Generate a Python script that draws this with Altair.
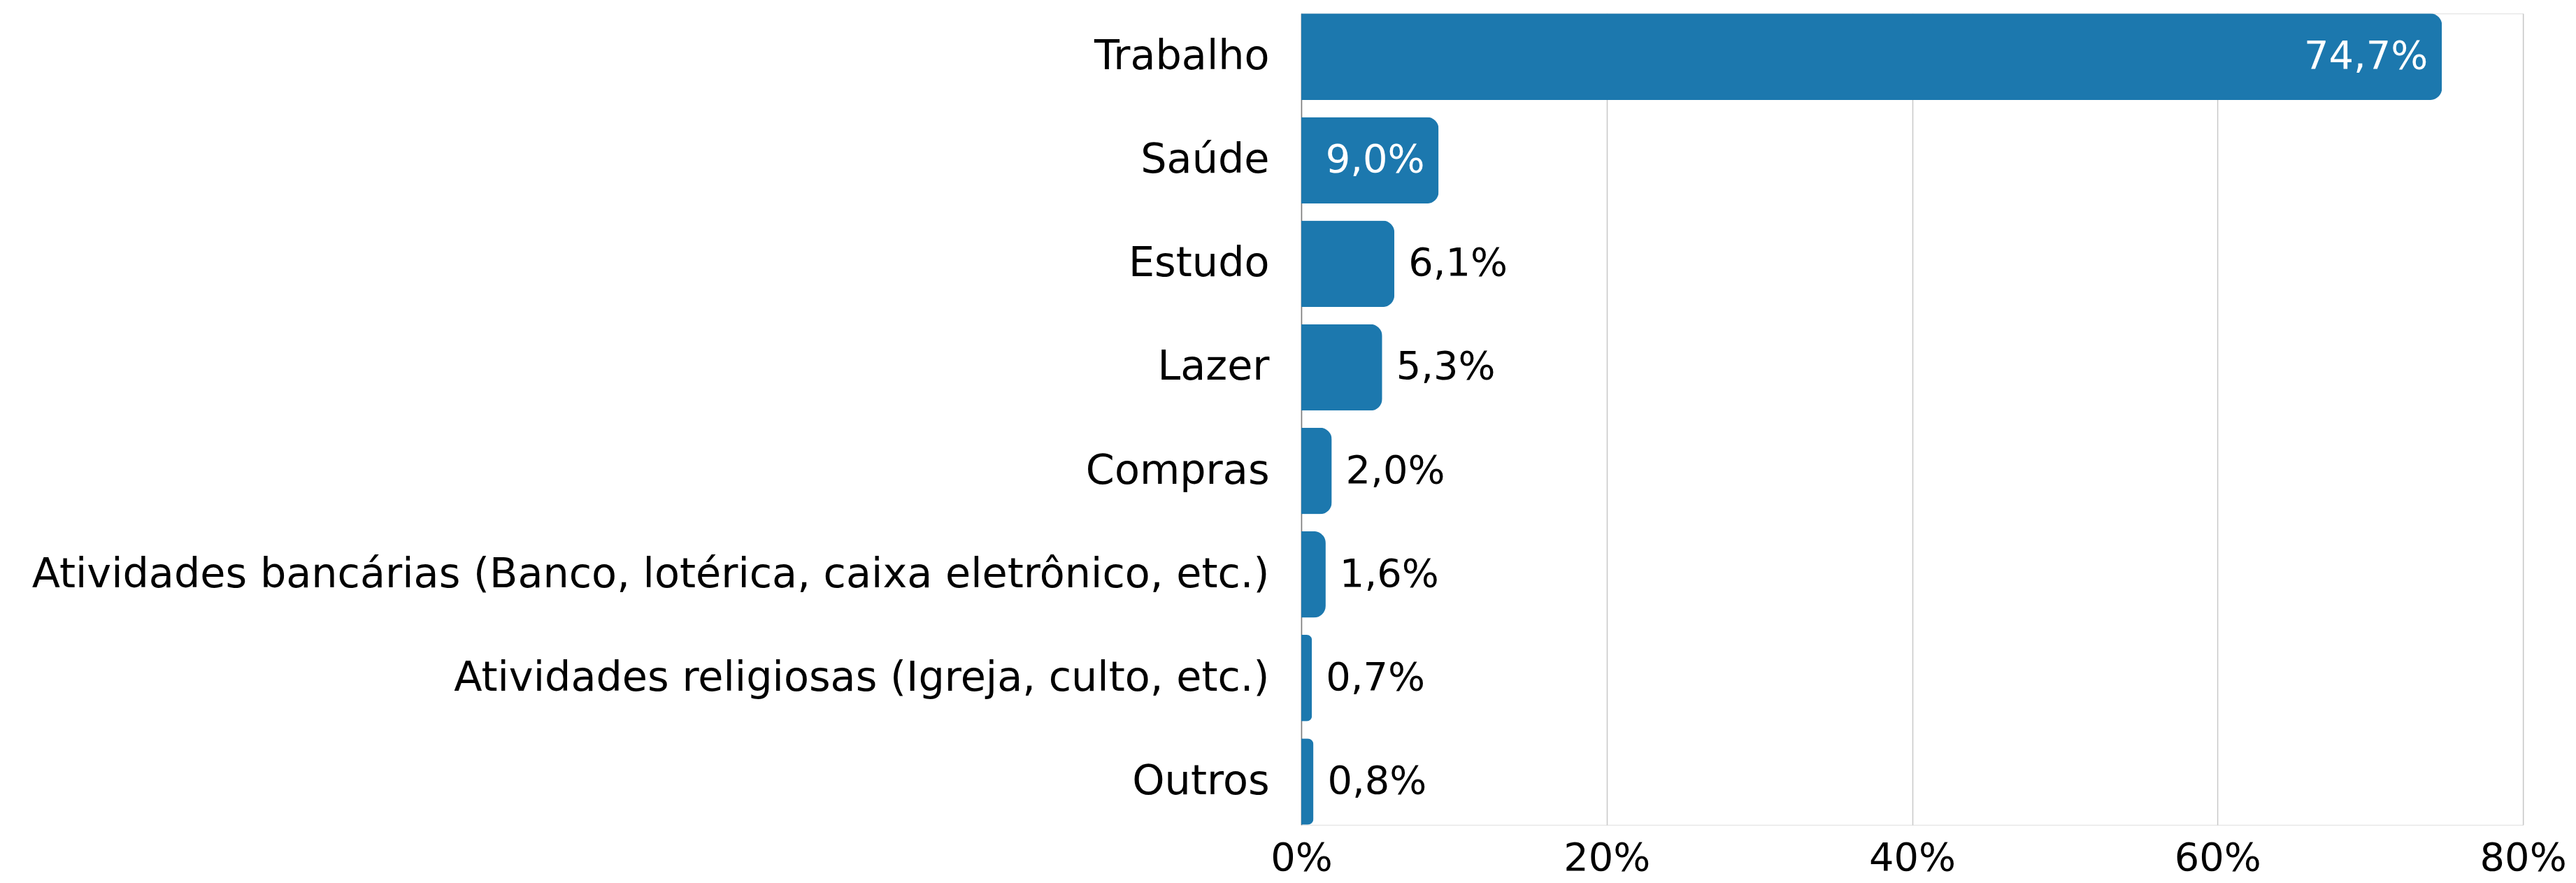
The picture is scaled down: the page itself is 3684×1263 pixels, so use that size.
import altair as alt
import pandas as pd

categories = [
    "Trabalho",
    "Saúde",
    "Estudo",
    "Lazer",
    "Compras",
    "Atividades bancárias (Banco, lotérica, caixa eletrônico, etc.)",
    "Atividades religiosas (Igreja, culto, etc.)",
    "Outros",
]
values = [74.7, 9.0, 6.1, 5.3, 2.0, 1.6, 0.7, 0.8]
x_ticks = [0, 20, 40, 60, 80]

df = pd.DataFrame({"cat": categories, "v": values})

FONT = "DejaVu Sans"
COLOR = "#1c78ae"
FS = 56

y_enc = alt.Y("cat:N", sort=categories, title=None,
              scale=alt.Scale(paddingInner=0.165, paddingOuter=0),
              axis=alt.Axis(labelFontSize=59, labelFont=FONT, labelColor="#000",
                            labelPadding=46, ticks=False, domain=True,
                            domainColor="#7a7a7a", domainWidth=1.5,
                            labelLimit=3000, grid=False))
x_enc = alt.X("v:Q", title=None,
              scale=alt.Scale(domain=[0, 80], nice=False),
              axis=alt.Axis(values=x_ticks, labelExpr="datum.value + '%'",
                            labelFontSize=FS, labelFont=FONT, labelColor="#000",
                            labelPadding=21, labelFlush=False, ticks=False,
                            domain=False, grid=True, gridColor="#c8c8c8",
                            gridWidth=1.5))

base = alt.Chart(df).encode(y=y_enc)

bars = base.mark_bar(color=COLOR, cornerRadiusEnd=17).encode(x=x_enc)

lab = base.transform_calculate(
    lbl="replace(format(datum.v, '.1f'), '.', ',') + '%'"
)

inside = lab.transform_filter("datum.v >= 8").mark_text(
    align="right", baseline="middle", dx=-20, font=FONT, fontSize=FS, color="white"
).encode(x=alt.X("v:Q"), text="lbl:N")

outside = lab.transform_filter("datum.v < 8").mark_text(
    align="left", baseline="middle", dx=20, font=FONT, fontSize=FS, color="black"
).encode(x=alt.X("v:Q"), text="lbl:N")

chart = alt.layer(bars, inside, outside).properties(
    width=1751, height=1163, padding={"top": 10, "left": 36, "right": 5, "bottom": 0}
).configure_view(stroke=None).configure(background="white")

chart.save("out.html", embed_options={"renderer": "svg", "actions": False})
